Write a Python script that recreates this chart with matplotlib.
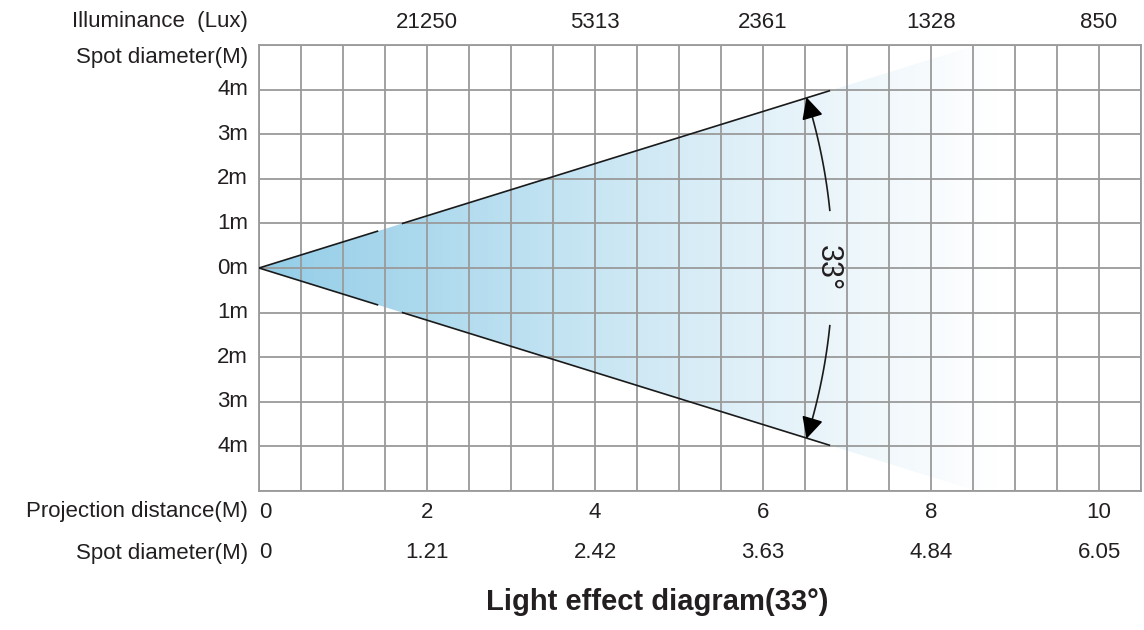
import numpy as np
import matplotlib
matplotlib.use("Agg")
import matplotlib.pyplot as plt
from matplotlib.colors import LinearSegmentedColormap
from matplotlib.patches import Polygon
import matplotlib.transforms as mtransforms

plt.rcParams['font.family'] = ['Liberation Sans', 'DejaVu Sans']

# data
distances = [0, 2, 4, 6, 8, 10]
spot_diam = ['0', '1.21', '2.42', '3.63', '4.84', '6.05']
lux_pos = [2, 4, 6, 8, 10]
lux_vals = ['21250', '5313', '2361', '1328', '850']
y_ticks = [4, 3, 2, 1, 0, -1, -2, -3, -4]
y_labels = ['4m', '3m', '2m', '1m', '0m', '1m', '2m', '3m', '4m']
beam_angle = 33

TXT = '#231f20'
GRID = '#9a9a9a'
FS = 16

fig = plt.figure(figsize=(11.44, 6.30), dpi=100)
ax = fig.add_axes([0.2264, 0.2206, 0.7710, 0.7080])
ax.set_xlim(0, 10.5)
ax.set_ylim(-5, 5)

# grid
ax.set_xticks(np.arange(0, 10.51, 0.5))
ax.set_yticks(np.arange(-5, 5.01, 1))
ax.tick_params(length=0, labelbottom=False, labelleft=False)
ax.grid(True, color=GRID, lw=1.3)
ax.set_axisbelow(False)
for s in ax.spines.values():
    s.set_color(GRID)
    s.set_linewidth(1.3)

# beam cone with fading fill
slope = 0.585
x_end = 6.79
cmap = LinearSegmentedColormap.from_list(
    'beam', [(0, '#93cde8'), (0.4, '#c2e3f2'), (0.7, '#e4f2f9'), (1, '#ffffff')])
xx = np.linspace(0, 10.5, 400)
grad = np.clip(xx / 8.8, 0, 1)[None, :]
im = ax.imshow(grad, extent=[0, 10.5, -5, 5], aspect='auto', cmap=cmap, vmin=0, vmax=1,
               zorder=1, interpolation='bilinear')
tri = Polygon([[0, 0], [10.5, 10.5 * slope], [10.5, -10.5 * slope]], closed=True,
              transform=ax.transData, facecolor='none', edgecolor='none')
ax.add_patch(tri)
im.set_clip_path(tri)

for sgn in (1, -1):
    for a, b in ((0, 1.41), (1.71, x_end)):
        ax.plot([a, b], [sgn * slope * a, sgn * slope * b], color='#1a1a1a', lw=1.2, zorder=3)

# angle arc (circle in pixel space around the apex)
rx, ry = 6.83, 12.8
for sgn in (1, -1):
    th = np.radians(np.linspace(5.8, 16.0, 60))
    ax.plot(rx * np.cos(th), sgn * ry * np.sin(th), color='#1a1a1a', lw=1.2, zorder=4)
    t0, t1 = np.radians(15.6), np.radians(17.4)
    ax.annotate('', xy=(rx * np.cos(t1), sgn * ry * np.sin(t1)),
                xytext=(rx * np.cos(t0), sgn * ry * np.sin(t0)),
                arrowprops=dict(arrowstyle='-|>,head_length=0.6,head_width=0.3', color='black',
                                lw=1.2, mutation_scale=22, shrinkA=0, shrinkB=0), zorder=5)
ax.text(rx - 0.06, 0, f'{beam_angle}°', rotation=-90, ha='center', va='center',
        fontsize=22, color=TXT, zorder=5)

# labels around the grid
trans_x = mtransforms.blended_transform_factory(ax.transData, fig.transFigure)
trans_y = mtransforms.blended_transform_factory(fig.transFigure, ax.transData)
xl = 248 / 1144

for y, lab in zip(y_ticks, y_labels):
    ax.text(xl, y, lab, transform=trans_y, ha='right', va='center', fontsize=FS, color=TXT)

y_top = 1 - 22 / 630
y_sd = 1 - 57 / 630
y_pd = 1 - 512 / 630
y_sp = 1 - 553 / 630
fig.text(xl, y_top, 'Illuminance  (Lux)', ha='right', va='center', fontsize=FS, color=TXT)
fig.text(xl, y_sd, 'Spot diameter(M)', ha='right', va='center', fontsize=FS, color=TXT)
fig.text(xl, y_pd, 'Projection distance(M)', ha='right', va='center', fontsize=FS, color=TXT)
fig.text(xl, y_sp, 'Spot diameter(M)', ha='right', va='center', fontsize=FS, color=TXT)

for x, lab in zip(lux_pos, lux_vals):
    ax.text(x, y_top, lab, transform=trans_x, ha='center', va='center', fontsize=FS, color=TXT)
for x, d, s in zip(distances, distances, spot_diam):
    ha = 'left' if x == 0 else 'center'
    ax.text(x, y_pd, str(d), transform=trans_x, ha=ha, va='center', fontsize=FS, color=TXT)
    ax.text(x, y_sp, s, transform=trans_x, ha=ha, va='center', fontsize=FS, color=TXT)

fig.text(657 / 1144, 1 - 602 / 630, f'Light effect diagram({beam_angle}°)', ha='center',
         va='center', fontsize=21, fontweight='bold', color=TXT)

fig.savefig('out.png', dpi=100, facecolor='white')
